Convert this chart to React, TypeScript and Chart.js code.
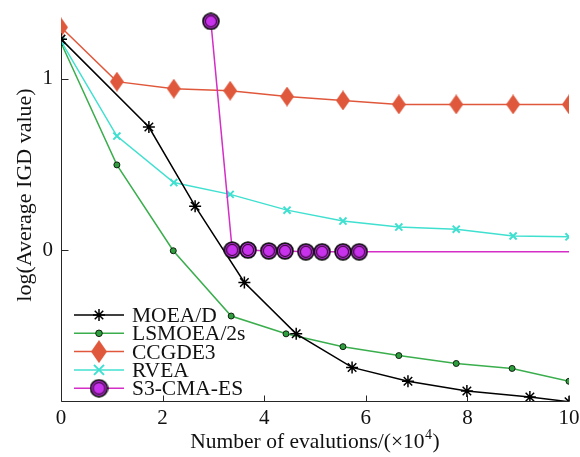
import React, { useEffect, useRef } from 'react';
import { Chart, registerables } from 'chart.js';

Chart.register(...registerables);

// ---- data ----
const seriesNames = ['MOEA/D', 'LSMOEA/2s', 'CCGDE3', 'RVEA', 'S3-CMA-ES'];

const xTicks = [0, 2, 4, 6, 8, 10];
const yTicks = [0, 1];
const X_MIN = 0;
const X_MAX = 10;
const Y_MIN = -0.881;
const Y_MAX = 1.404;
const Y_AXIS_TOP = 1.24;

const moeadX = [0, 1.73, 2.64, 3.61, 4.63, 5.73, 6.83, 7.99, 9.23, 10];
const moeadY = [1.231, 0.718, 0.256, -0.189, -0.489, -0.685, -0.766, -0.823, -0.858, -0.885];

const lsX = [0, 1.1, 2.21, 3.35, 4.43, 5.55, 6.65, 7.78, 8.88, 10];
const lsY = [1.21, 0.497, -0.004, -0.385, -0.489, -0.564, -0.616, -0.662, -0.691, -0.766];

const ccX = [0, 1.1, 2.22, 3.33, 4.45, 5.55, 6.65, 7.78, 8.9, 10];
const ccY = [1.3, 0.983, 0.942, 0.93, 0.896, 0.873, 0.85, 0.85, 0.85, 0.85];

const rvX = [0, 1.1, 2.22, 3.33, 4.45, 5.55, 6.65, 7.78, 8.9, 10];
const rvY = [1.22, 0.665, 0.394, 0.325, 0.233, 0.169, 0.134, 0.122, 0.082, 0.077];

const s3X = [2.95, 3.37, 3.68, 4.09, 4.41, 4.82, 5.14, 5.55, 5.87, 10];
const s3Y = [1.335, 0, 0, -0.005, -0.005, -0.01, -0.01, -0.01, -0.01, -0.01];

// ---- styles ----
const BLACK = '#000000';
const GREEN_LINE = '#3aae4c';
const GREEN_FILL = '#2e9e3e';
const RED = '#e0583c';
const CYAN = '#40e0d0';
const MAGENTA_LINE = '#d42ec6';
const MAGENTA_FILL = '#c832ec';
const FONT = '"Liberation Serif", "Times New Roman", serif';

const zip = (xs: number[], ys: number[]) => xs.map((x, i) => ({ x, y: ys[i] }));

function makeDiamond(w: number, h: number) {
  const c = document.createElement('canvas');
  c.width = w;
  c.height = h;
  const g = c.getContext('2d')!;
  g.fillStyle = RED;
  g.beginPath();
  g.moveTo(w / 2, 0);
  g.lineTo(w, h / 2);
  g.lineTo(w / 2, h);
  g.lineTo(0, h / 2);
  g.closePath();
  g.fill();
  return c;
}

function makeRing(size: number) {
  const c = document.createElement('canvas');
  c.width = size;
  c.height = size;
  const g = c.getContext('2d')!;
  const r = size / 2;
  g.fillStyle = MAGENTA_FILL;
  g.strokeStyle = '#111';
  g.lineWidth = 1.8;
  g.beginPath();
  g.arc(r, r, r - 1.1, 0, Math.PI * 2);
  g.fill();
  g.stroke();
  g.strokeStyle = '#3a0a3a';
  g.lineWidth = 1.2;
  g.beginPath();
  g.arc(r, r, r * 0.62, 0, Math.PI * 2);
  g.stroke();
  return c;
}

export default function App() {
  const ref = useRef<HTMLCanvasElement>(null);

  useEffect(() => {
    if (!ref.current) return;
    const diamond = makeDiamond(14, 20);
    const diamondLeg = makeDiamond(16, 23);
    const ring = makeRing(18);
    const ringLeg = makeRing(19);

    const overlay = {
      id: 'overlay',
      beforeDatasetsDraw(chart: any) {
        const { ctx, scales } = chart;
        const xs = scales.x;
        const ys = scales.y;
        const left = Math.round(xs.getPixelForValue(X_MIN)) + 0.5;
        const right = Math.round(xs.getPixelForValue(X_MAX)) + 0.5;
        const bottom = Math.round(ys.getPixelForValue(Y_MIN)) + 0.5;
        const top = Math.round(ys.getPixelForValue(Y_AXIS_TOP));
        ctx.save();
        ctx.strokeStyle = '#262626';
        ctx.lineWidth = 1;
        ctx.beginPath();
        ctx.moveTo(left, top);
        ctx.lineTo(left, bottom);
        ctx.lineTo(right, bottom);
        for (const v of xTicks) {
          const px = Math.round(xs.getPixelForValue(v)) + 0.5;
          ctx.moveTo(px, bottom);
          ctx.lineTo(px, bottom - 6);
        }
        for (const v of yTicks) {
          const py = Math.round(ys.getPixelForValue(v)) + 0.5;
          ctx.moveTo(left, py);
          ctx.lineTo(left + 7, py);
        }
        ctx.stroke();
        ctx.restore();
      },
      afterDraw(chart: any) {
        const { ctx, chartArea } = chart;
        ctx.save();
        ctx.fillStyle = '#111';
        // x title
        const big = `21.5px ${FONT}`;
        const small = `14px ${FONT}`;
        ctx.font = big;
        const t1 = 'Number of evalutions/(×10';
        const t2 = '4';
        const t3 = ')';
        const w1 = ctx.measureText(t1).width;
        ctx.font = small;
        const w2 = ctx.measureText(t2).width;
        ctx.font = big;
        const w3 = ctx.measureText(t3).width;
        const cx = (chartArea.left + chartArea.right) / 2;
        let sx = cx - (w1 + w2 + w3 + 1) / 2;
        const by = 448;
        ctx.textBaseline = 'alphabetic';
        ctx.textAlign = 'left';
        ctx.fillText(t1, sx, by);
        sx += w1;
        ctx.font = small;
        ctx.fillText(t2, sx + 0.5, by - 9);
        sx += w2 + 1;
        ctx.font = big;
        ctx.fillText(t3, sx, by);
        // y title
        ctx.save();
        ctx.font = `22px ${FONT}`;
        ctx.translate(31, 195);
        ctx.rotate(-Math.PI / 2);
        ctx.textAlign = 'center';
        ctx.fillText('log(Average IGD value)', 0, 0);
        ctx.restore();

        // legend
        const rowY0 = 315;
        const step = 18.3;
        const lx0 = 74;
        const lx1 = 124;
        const mx = 99;
        const colors = [BLACK, GREEN_LINE, RED, CYAN, MAGENTA_LINE];
        ctx.font = `21.5px ${FONT}`;
        seriesNames.forEach((name, i) => {
          const yy = rowY0 + i * step;
          ctx.strokeStyle = colors[i];
          ctx.lineWidth = 1.5;
          ctx.beginPath();
          ctx.moveTo(lx0, yy);
          ctx.lineTo(lx1, yy);
          ctx.stroke();
          if (i === 0) {
            ctx.strokeStyle = BLACK;
            ctx.lineWidth = 1.5;
            const r = 6;
            ctx.beginPath();
            ctx.moveTo(mx - r, yy); ctx.lineTo(mx + r, yy);
            ctx.moveTo(mx, yy - r); ctx.lineTo(mx, yy + r);
            const d = r * 0.7071;
            ctx.moveTo(mx - d, yy - d); ctx.lineTo(mx + d, yy + d);
            ctx.moveTo(mx - d, yy + d); ctx.lineTo(mx + d, yy - d);
            ctx.stroke();
          } else if (i === 1) {
            ctx.fillStyle = GREEN_FILL;
            ctx.strokeStyle = '#102010';
            ctx.lineWidth = 1;
            ctx.beginPath();
            ctx.arc(mx, yy, 3.3, 0, Math.PI * 2);
            ctx.fill();
            ctx.stroke();
          } else if (i === 2) {
            ctx.drawImage(diamondLeg, mx - diamondLeg.width / 2, yy - diamondLeg.height / 2);
          } else if (i === 3) {
            ctx.strokeStyle = CYAN;
            ctx.lineWidth = 2;
            const d = 5;
            ctx.beginPath();
            ctx.moveTo(mx - d, yy - d); ctx.lineTo(mx + d, yy + d);
            ctx.moveTo(mx - d, yy + d); ctx.lineTo(mx + d, yy - d);
            ctx.stroke();
          } else {
            ctx.drawImage(ringLeg, mx - ringLeg.width / 2, yy - ringLeg.height / 2);
          }
          ctx.fillStyle = '#111';
          ctx.textAlign = 'left';
          ctx.textBaseline = 'alphabetic';
          ctx.fillText(name, 132, yy + 7);
        });
        ctx.restore();
      },
    };

    const chart = new Chart(ref.current, {
      type: 'line',
      data: {
        datasets: [
          {
            label: seriesNames[0],
            data: zip(moeadX, moeadY),
            borderColor: BLACK,
            borderWidth: 1.5,
            pointStyle: 'star',
            pointRadius: 6,
            pointBorderColor: BLACK,
            pointBackgroundColor: BLACK,
            pointBorderWidth: 1.5,
            tension: 0,
            order: 1,
          },
          {
            label: seriesNames[1],
            data: zip(lsX, lsY),
            borderColor: GREEN_LINE,
            borderWidth: 1.5,
            pointStyle: 'circle',
            pointRadius: 3,
            pointBorderColor: '#102010',
            pointBackgroundColor: GREEN_FILL,
            pointBorderWidth: 1,
            tension: 0,
            order: 4,
          },
          {
            label: seriesNames[2],
            data: zip(ccX, ccY),
            borderColor: RED,
            borderWidth: 1.5,
            pointStyle: diamond,
            pointRadius: 7,
            tension: 0,
            order: 2,
          },
          {
            label: seriesNames[3],
            data: zip(rvX, rvY),
            borderColor: CYAN,
            borderWidth: 1.5,
            pointStyle: 'crossRot',
            pointRadius: 5,
            pointBorderColor: CYAN,
            pointBorderWidth: 2,
            tension: 0,
            order: 3,
          },
          {
            label: seriesNames[4],
            data: zip(s3X, s3Y),
            borderColor: MAGENTA_LINE,
            borderWidth: 1.5,
            pointStyle: ring,
            pointRadius: (c: any) => (c.dataIndex === s3X.length - 1 ? 0 : 8),
            tension: 0,
            order: 0,
          },
        ],
      },
      options: {
        responsive: false,
        devicePixelRatio: 1,
        animation: false,
        events: [],
        layout: { padding: { top: 5, right: 11, left: 0, bottom: 0 } },
        plugins: {
          legend: { display: false },
          tooltip: { enabled: false },
          title: { display: false },
        },
        scales: {
          x: {
            type: 'linear',
            min: X_MIN,
            max: X_MAX,
            grid: { display: false, drawTicks: false },
            border: { display: false },
            afterBuildTicks: (s: any) => {
              s.ticks = xTicks.map((v) => ({ value: v }));
            },
            afterFit: (s: any) => {
              s.height = 56;
              s.paddingLeft = 0;
              s.paddingRight = 0;
              s.paddingTop = 0;
              s.paddingBottom = 0;
            },
            ticks: {
              padding: 5,
              autoSkip: false,
              maxRotation: 0,
              color: '#111',
              font: { family: FONT, size: 21 },
            },
          },
          y: {
            type: 'linear',
            min: Y_MIN,
            max: Y_MAX,
            grid: { display: false, drawTicks: false },
            border: { display: false },
            afterBuildTicks: (s: any) => {
              s.ticks = yTicks.map((v) => ({ value: v }));
            },
            afterFit: (s: any) => {
              s.width = 61;
              s.paddingLeft = 0;
              s.paddingRight = 0;
              s.paddingTop = 0;
              s.paddingBottom = 0;
            },
            ticks: {
              padding: 8,
              color: '#111',
              font: { family: FONT, size: 21 },
            },
          },
        },
      } as any,
      plugins: [overlay],
    });
    return () => chart.destroy();
  }, []);

  return (
    <div style={{ position: 'fixed', left: 0, top: 0, width: 580, height: 457, background: '#fff' }}>
      <canvas ref={ref} width={580} height={457} style={{ display: 'block', width: 580, height: 457 }} />
    </div>
  );
}
